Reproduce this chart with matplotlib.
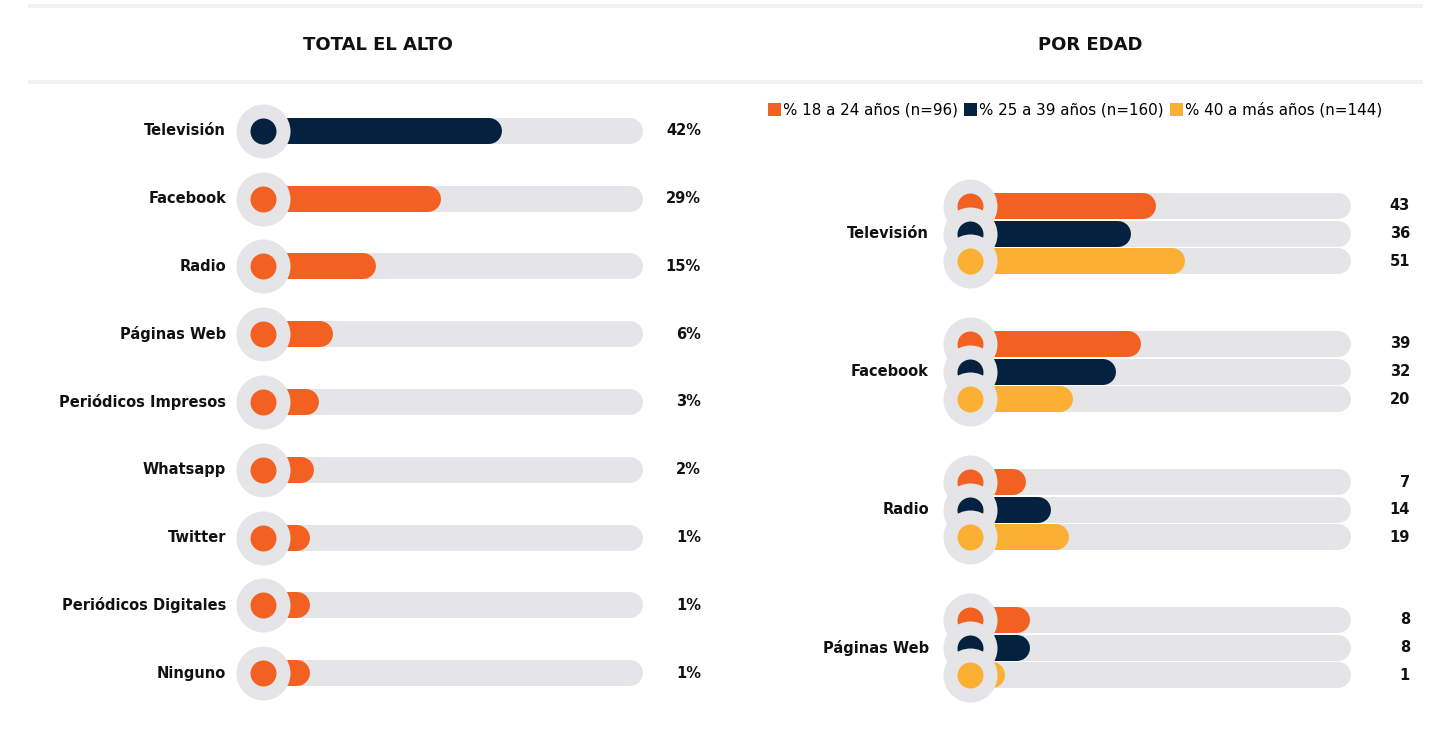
import matplotlib
matplotlib.use('Agg')
import matplotlib.pyplot as plt
from matplotlib.patches import Rectangle, Patch

W, H, DPI = 1430, 729, 100

# ---- data ----
total_labels = ['Televisión', 'Facebook', 'Radio', 'Páginas Web', 'Periódicos Impresos',
                'Whatsapp', 'Twitter', 'Periódicos Digitales', 'Ninguno']
total_values = [42, 29, 15, 6, 3, 2, 1, 1, 1]

age_media = ['Televisión', 'Facebook', 'Radio', 'Páginas Web']
age_groups = ['% 18 a 24 años (n=96)', '% 25 a 39 años (n=160)', '% 40 a más años (n=144)']
age_18_24 = [43, 39, 7, 8]
age_25_39 = [36, 32, 14, 8]
age_40_mas = [51, 20, 19, 1]

NAVY = '#04213F'
ORANGE = '#F26122'
YELLOW = '#FBB034'
TRACK = '#E5E5E8'
BAND = '#F2F2F2'

plt.rcParams['font.family'] = ['DejaVu Sans']

fig = plt.figure(figsize=(W / DPI, H / DPI), dpi=DPI)

BAR_LW = 26 * 72 / DPI      # bar thickness in points (26 px)
RING_S = (54 * 72 / DPI) ** 2
DOT_S = (26 * 72 / DPI) ** 2


def px_axes(x0, x1, y0, y1):
    ax = fig.add_axes([x0 / W, 1 - y1 / H, (x1 - x0) / W, (y1 - y0) / H])
    ax.set_axis_off()
    return ax


def draw_row(ax, y, value, color, start, track_end, z):
    ax.plot([start, track_end], [y, y], color=TRACK, lw=BAR_LW,
            solid_capstyle='round', zorder=z)
    ax.plot([start, value], [y, y], color=color, lw=BAR_LW,
            solid_capstyle='round', zorder=z + 0.1)
    ax.scatter([start], [y], s=RING_S, color=TRACK, linewidths=0, zorder=z + 0.2)
    ax.scatter([start], [y], s=DOT_S, color=color, linewidths=0, zorder=z + 0.3)


# ---- header bands & titles ----
for yb in (4, 80):
    fig.add_artist(Rectangle((28 / W, 1 - (yb + 4) / H), 1395 / W, 4 / H,
                             transform=fig.transFigure, color=BAND, lw=0))
fig.text(378 / W, 1 - 45 / H, 'TOTAL EL ALTO', ha='center', va='center',
         fontsize=13, fontweight='bold', color='#111111')
fig.text(1090 / W, 1 - 45 / H, 'POR EDAD', ha='center', va='center',
         fontsize=13, fontweight='bold', color='#111111')

# ---- left panel: total ----
k_left, zero_left = 4.7, 292
axl = px_axes(0, 740, 97, 707)
axl.set_xlim((0 - zero_left) / k_left, (740 - zero_left) / k_left)
axl.set_ylim(len(total_labels) - 0.5, -0.5)
start_l = (263 - zero_left) / k_left
end_l = (630 - zero_left) / k_left
for i, (lab, v) in enumerate(zip(total_labels, total_values)):
    color = NAVY if i == 0 else ORANGE
    draw_row(axl, i, v, color, start_l, end_l, 2 + i)
    axl.text((226 - zero_left) / k_left, i, lab, ha='right', va='center',
             fontsize=10.5, fontweight='bold', color='#111111')
    axl.text((701 - zero_left) / k_left, i, f'{v}%', ha='right', va='center',
             fontsize=10.5, fontweight='bold', color='#111111')

# ---- right panel: by age ----
k_right, zero_right = 3.6, 988
row_px, first_px = 27.6, 206
axr = px_axes(740, 1430, 150, 710)
axr.set_xlim((740 - zero_right) / k_right, (1430 - zero_right) / k_right)
axr.set_ylim((710 - first_px) / row_px, (150 - first_px) / row_px)
start_r = (970 - zero_right) / k_right
end_r = (1338 - zero_right) / k_right
series = [age_18_24, age_25_39, age_40_mas]
colors = [ORANGE, NAVY, YELLOW]
z = 2
for g, media in enumerate(age_media):
    for j, (vals, c) in enumerate(zip(series, colors)):
        y = g * 5 + j
        draw_row(axr, y, vals[g], c, start_r, end_r, z)
        z += 1
        axr.text((1410 - zero_right) / k_right, y, f'{vals[g]}', ha='right', va='center',
                 fontsize=10.5, fontweight='bold', color='#111111')
    axr.text((929 - zero_right) / k_right, g * 5 + 1, media, ha='right', va='center',
             fontsize=10.5, fontweight='bold', color='#111111')

handles = [Patch(facecolor=c, edgecolor='none') for c in colors]
fig.legend(handles, age_groups, loc='center', bbox_to_anchor=(1075 / W, 1 - 110 / H),
           ncol=3, frameon=False, fontsize=10.9, handlelength=0.85, handleheight=0.85,
           handletextpad=0.15, columnspacing=0.4, borderaxespad=0)

fig.savefig('out.png', dpi=DPI, facecolor='white')
